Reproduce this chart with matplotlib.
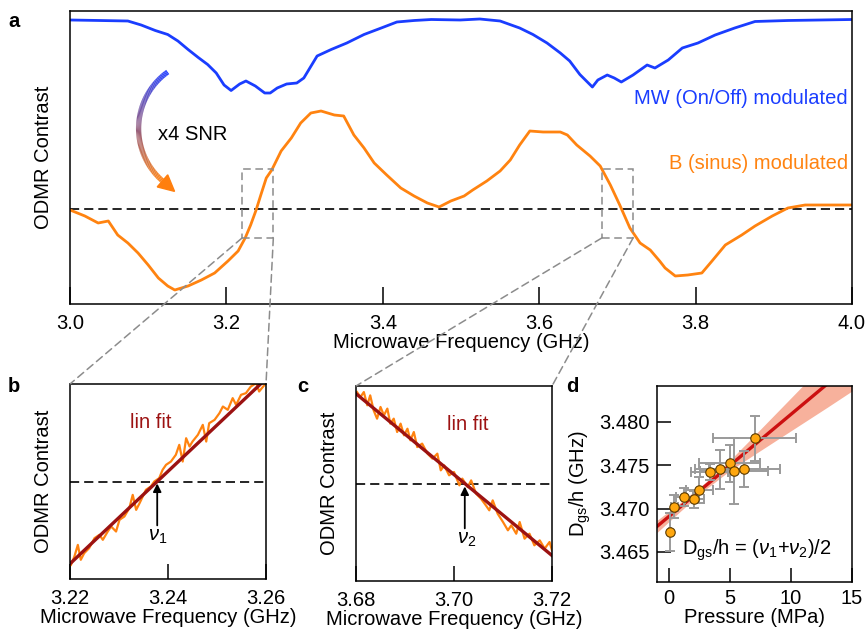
import numpy as np
import matplotlib
matplotlib.use('Agg')
import matplotlib.pyplot as plt
from matplotlib.patches import Rectangle, ConnectionPatch, Polygon
from matplotlib.collections import LineCollection
from matplotlib.colors import to_rgb

plt.rcParams['font.family'] = ['Liberation Sans', 'DejaVu Sans']
plt.rcParams['mathtext.fontset'] = 'custom'
plt.rcParams['mathtext.rm'] = 'Liberation Sans'
plt.rcParams['mathtext.it'] = 'Liberation Sans:italic'
plt.rcParams['mathtext.bf'] = 'Liberation Sans:bold'

# ---------------- data ----------------
# panel a: MW (On/Off) modulated trace (arb. units)
blue_f = [3.000, 3.038, 3.074, 3.091, 3.109, 3.125, 3.138, 3.151, 3.164, 3.176,
          3.187, 3.197, 3.206, 3.217, 3.225, 3.237, 3.249, 3.256, 3.265, 3.277,
          3.290, 3.299, 3.316, 3.334, 3.354, 3.376, 3.398, 3.418, 3.440, 3.462,
          3.499, 3.524, 3.550, 3.575, 3.592, 3.610, 3.627, 3.639, 3.652, 3.668,
          3.675, 3.687, 3.696, 3.705, 3.720, 3.738, 3.748, 3.765, 3.783, 3.803,
          3.825, 3.850, 3.876, 3.918, 4.000]
blue_v = [1.89, 1.885, 1.88, 1.84, 1.785, 1.745, 1.68, 1.595, 1.515, 1.445,
          1.36, 1.24, 1.185, 1.25, 1.28, 1.23, 1.16, 1.16, 1.21, 1.25,
          1.26, 1.31, 1.53, 1.595, 1.66, 1.745, 1.81, 1.87, 1.885, 1.895,
          1.89, 1.90, 1.88, 1.81, 1.745, 1.66, 1.56, 1.48, 1.345, 1.22,
          1.29, 1.34, 1.31, 1.27, 1.34, 1.44, 1.41, 1.49, 1.61, 1.66,
          1.74, 1.81, 1.875, 1.885, 1.895]

# panel a: B (sinus) modulated trace (arb. units, zero = dashed line)
orange_f = [3.000, 3.019, 3.036, 3.049, 3.061, 3.074, 3.087, 3.100, 3.113, 3.125,
            3.134, 3.151, 3.168, 3.185, 3.202, 3.215, 3.224, 3.231, 3.238, 3.244,
            3.251, 3.258, 3.270, 3.283, 3.295, 3.308, 3.321, 3.338, 3.350, 3.363,
            3.376, 3.389, 3.405, 3.423, 3.440, 3.457, 3.472, 3.487, 3.504, 3.515,
            3.533, 3.550, 3.563, 3.575, 3.588, 3.605, 3.627, 3.636, 3.648, 3.665,
            3.678, 3.691, 3.703, 3.716, 3.729, 3.742, 3.754, 3.761, 3.774, 3.790,
            3.808, 3.821, 3.838, 3.859, 3.876, 3.898, 3.918, 3.940, 3.962, 4.000]
orange_v = [-0.01, -0.07, -0.14, -0.12, -0.26, -0.34, -0.44, -0.56, -0.69, -0.77,
            -0.81, -0.77, -0.71, -0.64, -0.52, -0.42, -0.29, -0.16, -0.01, 0.14,
            0.31, 0.39, 0.58, 0.71, 0.86, 0.96, 0.98, 0.94, 0.93, 0.74,
            0.61, 0.46, 0.34, 0.21, 0.13, 0.06, 0.02, 0.08, 0.13, 0.19,
            0.28, 0.38, 0.49, 0.64, 0.78, 0.77, 0.77, 0.74, 0.64, 0.53,
            0.43, 0.24, 0.04, -0.19, -0.34, -0.41, -0.52, -0.59, -0.67, -0.66,
            -0.64, -0.52, -0.36, -0.26, -0.17, -0.07, 0.01, 0.04, 0.04, 0.04]

# zoom windows (GHz) and contrast window (arb. units)
zoom1_f = (3.22, 3.26)
zoom2_f = (3.68, 3.72)
zoom_v = (-0.29, 0.40)

# panel b: zoomed data (normalised contrast)
b_f = [3.2202, 3.2209, 3.2216, 3.2222, 3.2229, 3.2239, 3.2250, 3.2260, 3.2267, 3.2277,
       3.2284, 3.2294, 3.2301, 3.2311, 3.2321, 3.2328, 3.2335, 3.2342, 3.2355, 3.2365,
       3.2372, 3.2382, 3.2389, 3.2396, 3.2406, 3.2416, 3.2423, 3.2430, 3.2437, 3.2444,
       3.2450, 3.2461, 3.2471, 3.2478, 3.2484, 3.2495, 3.2505, 3.2512, 3.2522, 3.2532,
       3.2539, 3.2549, 3.2559, 3.2569, 3.2580, 3.2586, 3.2597]
b_v = [-0.855, -0.769, -0.650, -0.803, -0.735, -0.684, -0.581, -0.547, -0.598, -0.513,
       -0.462, -0.513, -0.393, -0.359, -0.274, -0.137, -0.291, -0.222, -0.085, -0.051,
       0.000, 0.034, 0.120, 0.171, 0.205, 0.274, 0.376, 0.205, 0.444, 0.359,
       0.410, 0.479, 0.581, 0.410, 0.598, 0.632, 0.701, 0.769, 0.735, 0.855,
       0.786, 0.889, 0.906, 0.974, 1.009, 0.923, 0.991]
nu1 = 3.2378
b_slope = 47.4

# panel c: zoomed data (normalised contrast)
c_f = [3.6802, 3.6809, 3.6816, 3.6823, 3.6829, 3.6836, 3.6843, 3.6850, 3.6857, 3.6864,
       3.6870, 3.6877, 3.6884, 3.6891, 3.6898, 3.6905, 3.6911, 3.6918, 3.6925, 3.6935,
       3.6946, 3.6956, 3.6966, 3.6973, 3.6980, 3.6990, 3.7000, 3.7011, 3.7017, 3.7028,
       3.7035, 3.7045, 3.7055, 3.7065, 3.7072, 3.7079, 3.7089, 3.7100, 3.7110, 3.7117,
       3.7127, 3.7134, 3.7144, 3.7154, 3.7164, 3.7175, 3.7185, 3.7195, 3.7200]
c_v = [0.938, 0.887, 0.938, 0.802, 0.904, 0.750, 0.665, 0.785, 0.699, 0.768,
       0.614, 0.665, 0.528, 0.614, 0.494, 0.562, 0.443, 0.528, 0.374, 0.409,
       0.306, 0.255, 0.306, 0.135, 0.186, 0.084, 0.118, -0.019, 0.050, -0.036,
       0.032, -0.104, -0.156, -0.224, -0.275, -0.173, -0.309, -0.395, -0.480, -0.429,
       -0.515, -0.395, -0.566, -0.515, -0.634, -0.583, -0.668, -0.600, -0.685]
nu2 = 3.7022
c_slope = -41.5

# panel d: D_gs/h vs pressure
pressure = [0.05, 0.43, 1.25, 2.07, 2.47, 3.32, 4.13, 4.95, 5.33, 6.17, 7.01]
pressure_err = [0.1, 0.3, 0.7, 0.8, 1.1, 1.5, 2.0, 2.5, 2.8, 2.9, 3.4]
dgs = [3.46732, 3.47022, 3.47134, 3.47107, 3.47211, 3.47424, 3.47451, 3.47521,
       3.47436, 3.47455, 3.47810]
dgs_err = [0.0022, 0.0013, 0.0010, 0.0010, 0.0015, 0.0009, 0.0023, 0.0021,
           0.0038, 0.0021, 0.0026]
fit_intercept = 3.46911
fit_slope = 0.001177
band_p = [-1, 1, 3, 5, 7, 10, 13, 15]
band_w = [0.0007, 0.0005, 0.0004, 0.0006, 0.0011, 0.0019, 0.0027, 0.0032]

# ---------------- styling ----------------
BLUE = '#1a3dff'
ORANGE = '#ff8310'
DARKRED = '#9c1212'
GRAY = '#8c8c8c'
FS = 14.5

W, H = 865, 635
fig = plt.figure(figsize=(W / 100, H / 100), dpi=100)


def pax(x0, y0, x1, y1):
    return fig.add_axes([x0 / W, 1 - y1 / H, (x1 - x0) / W, (y1 - y0) / H])


ax_a = pax(70, 11, 852, 304)
ax_b = pax(70, 384, 266, 579)
ax_c = pax(356, 386, 552, 581)
ax_d = pax(657, 386, 852, 582)

for ax in (ax_a, ax_b, ax_c, ax_d):
    for s in ax.spines.values():
        s.set_linewidth(1.1)
    ax.tick_params(direction='in', length=11, width=1.1, labelsize=FS, pad=7,
                   top=False, right=False)

dash_k = (0, (5.5, 3.0))

# ---- panel a ----
ax_a.plot(blue_f, blue_v, color=BLUE, lw=2.0)
ax_a.plot(orange_f, orange_v, color=ORANGE, lw=2.0)
ax_a.axhline(0, color='black', lw=1.2, ls=dash_k, zorder=1)
ax_a.set_xlim(3.0, 4.0)
ax_a.set_ylim(-0.95, 1.98)
ax_a.set_xticks([3.0, 3.2, 3.4, 3.6, 3.8, 4.0])
ax_a.set_xticklabels(['3.0', '3.2', '3.4', '3.6', '3.8', '4.0'])
ax_a.tick_params(axis='x', length=12)
ax_a.set_yticks([])
ax_a.set_xlabel('Microwave Frequency (GHz)', fontsize=FS, labelpad=0)
ax_a.set_ylabel('ODMR Contrast', fontsize=FS, labelpad=12)
ax_a.text(0.994, 0.703, 'MW (On/Off) modulated', color=BLUE, fontsize=FS,
          ha='right', va='center', transform=ax_a.transAxes)
ax_a.text(0.995, 0.481, 'B (sinus) modulated', color=ORANGE, fontsize=FS,
          ha='right', va='center', transform=ax_a.transAxes)
ax_a.text(0.1125, 0.580, 'x4 SNR', color='black', fontsize=FS,
          ha='left', va='center', transform=ax_a.transAxes)

for zf in (zoom1_f, zoom2_f):
    ax_a.add_patch(Rectangle((zf[0], zoom_v[0]), zf[1] - zf[0], zoom_v[1] - zoom_v[0],
                             fill=False, ec=GRAY, lw=1.1, ls=(0, (5, 3)), zorder=4))

# gradient curved arrow (pixel geometry -> axes fraction of panel a)
cx, cy, r = 208.0, 128.5, 69.4
th = np.radians(np.linspace(125.5, 229.0, 120))
apx = cx + r * np.cos(th)
apy = cy - r * np.sin(th)


def to_ax(px, py):
    return (np.asarray(px) - 70) / 782, (304 - np.asarray(py)) / 293


fx, fy = to_ax(apx, apy)
pts = np.column_stack([fx, fy])
segs = np.stack([pts[:-1], pts[1:]], axis=1)
c0 = np.array(to_rgb('#1f3cff'))
c1 = np.array(to_rgb('#ff7f0e'))
tt = np.linspace(0, 1, len(segs))[:, None]
cols = c0 * (1 - tt) + c1 * tt
lc = LineCollection(segs, colors=cols, linewidths=3.8, transform=ax_a.transAxes,
                    capstyle='butt', zorder=5)
ax_a.add_collection(lc)
ex, ey = apx[-1], apy[-1]
tth = th[-1]
tx, ty = -np.sin(tth), -np.cos(tth)
nrm = np.hypot(tx, ty)
tx, ty = tx / nrm, ty / nrm
nx, ny = -ty, tx
tip = (ex + 16 * tx, ey + 16 * ty)
cA = (ex + 8 * nx, ey + 8 * ny)
cB = (ex - 8 * nx, ey - 8 * ny)
hx, hy = to_ax([tip[0], cA[0], cB[0]], [tip[1], cA[1], cB[1]])
ax_a.add_patch(Polygon(np.column_stack([hx, hy]), closed=True, color=c1,
                       transform=ax_a.transAxes, zorder=5))

# ---- panel b ----
ax_b.plot(b_f, b_v, color=ORANGE, lw=1.6)
bx = np.array([3.215, 3.265])
ax_b.plot(bx, b_slope * (bx - nu1), color=DARKRED, lw=2.4)
ax_b.axhline(0, color='black', lw=1.2, ls=dash_k, zorder=1)
ax_b.set_xlim(3.22, 3.26)
ax_b.set_ylim(-1, 1)
ax_b.set_xticks([3.22, 3.24, 3.26])
ax_b.set_xticklabels(['3.22', '3.24', '3.26'])
ax_b.set_yticks([])
ax_b.set_xlabel('Microwave Frequency (GHz)', fontsize=FS, labelpad=0)
ax_b.set_ylabel('ODMR Contrast', fontsize=FS, labelpad=12)
ax_b.text(3.2365, 0.60, 'lin fit', color=DARKRED, fontsize=FS, ha='center', va='center')
ax_b.annotate('', xy=(nu1, -0.02), xytext=(nu1, -0.45),
              arrowprops=dict(arrowstyle='-|>', color='black', lw=1.3,
                              mutation_scale=12, shrinkA=0, shrinkB=0))
ax_b.text(nu1, -0.56, r'$\nu_1$', fontsize=FS, ha='center', va='center')

# ---- panel c ----
ax_c.plot(c_f, c_v, color=ORANGE, lw=1.6)
cxs = np.array([3.675, 3.725])
ax_c.plot(cxs, c_slope * (cxs - nu2), color=DARKRED, lw=2.4)
ax_c.axhline(0, color='black', lw=1.2, ls=dash_k, zorder=1)
ax_c.set_xlim(3.68, 3.72)
ax_c.set_ylim(-1, 1)
ax_c.set_xticks([3.68, 3.70, 3.72])
ax_c.set_xticklabels(['3.68', '3.70', '3.72'])
ax_c.set_yticks([])
ax_c.set_xlabel('Microwave Frequency (GHz)', fontsize=FS, labelpad=0)
ax_c.set_ylabel('ODMR Contrast', fontsize=FS, labelpad=12)
ax_c.text(3.7028, 0.61, 'lin fit', color=DARKRED, fontsize=FS, ha='center', va='center')
ax_c.annotate('', xy=(nu2, -0.03), xytext=(nu2, -0.46),
              arrowprops=dict(arrowstyle='-|>', color='black', lw=1.3,
                              mutation_scale=12, shrinkA=0, shrinkB=0))
ax_c.text(nu2 + 0.0003, -0.57, r'$\nu_2$', fontsize=FS, ha='center', va='center')

# ---- panel d ----
bp = np.array(band_p)
bw = np.array(band_w)
bline = fit_intercept + fit_slope * bp
ax_d.fill_between(bp, bline - bw, bline + bw, color='#f7b19c', lw=0, zorder=1)
ax_d.plot(bp, bline, color='#cc1010', lw=2.4, zorder=2)
ax_d.errorbar(pressure, dgs, xerr=pressure_err, yerr=dgs_err, fmt='none',
              ecolor='#9a9a9a', elinewidth=1.4, capsize=3.5, capthick=1.4, zorder=3)
ax_d.plot(pressure, dgs, 'o', ms=6.8, mfc='#ffa70f', mec='#5a3a00', mew=0.8, zorder=4)
ax_d.set_xlim(-1, 15)
ax_d.set_ylim(3.46152, 3.48414)
ax_d.set_xticks([0, 5, 10, 15])
ax_d.set_yticks([3.465, 3.470, 3.475, 3.480])
ax_d.set_yticklabels(['3.465', '3.470', '3.475', '3.480'])
ax_d.tick_params(length=10, pad=5)
ax_d.set_xlabel('Pressure (MPa)', fontsize=FS, labelpad=0)
ax_d.set_ylabel(r'D$_{\rm gs}$/h (GHz)', fontsize=FS, labelpad=5)
ax_d.text(0.51, 0.16, r'D$_{\rm gs}$/h = ($\nu_1$+$\nu_2$)/2', fontsize=FS,
          ha='center', va='center', transform=ax_d.transAxes)

# ---- connectors ----
for zf, axz in ((zoom1_f, ax_b), (zoom2_f, ax_c)):
    for xa, xb in ((zf[0], 0), (zf[1], 1)):
        con = ConnectionPatch(xyA=(xa, zoom_v[0]), coordsA=ax_a.transData,
                              xyB=(xb, 1), coordsB=axz.transAxes,
                              color=GRAY, lw=1.1, ls=(0, (5, 3)), zorder=6)
        fig.add_artist(con)

# ---- panel labels ----
for lab, x, y in (('a', 8, 27), ('b', 8, 392), ('c', 297, 392), ('d', 566, 392)):
    fig.text(x / W, 1 - y / H, lab, fontsize=FS, fontweight='bold',
             ha='left', va='baseline')

fig.savefig('out.png', dpi=100)
